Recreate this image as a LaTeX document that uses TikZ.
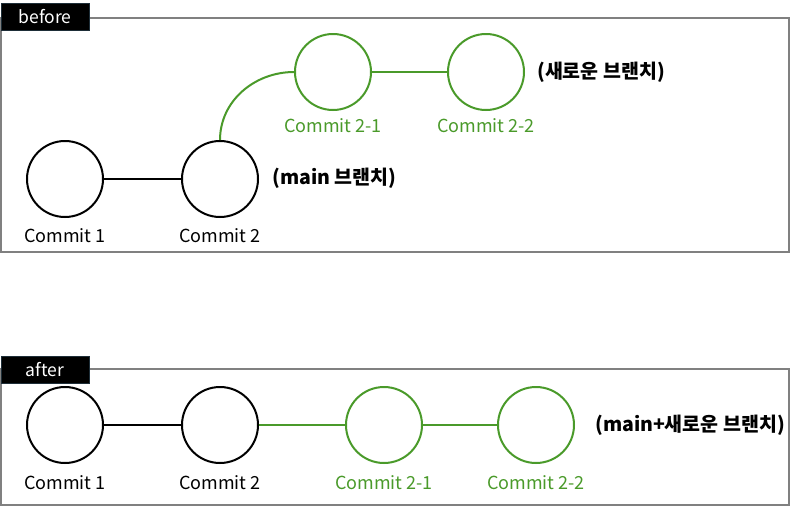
\documentclass[tikz,border=0pt]{standalone}
\usepackage{fontspec}
\setmainfont{Noto Sans CJK KR}
\definecolor{grn}{HTML}{4A9A2A}
\definecolor{frm}{HTML}{808080}
\definecolor{tagedge}{HTML}{1E2E38}
\begin{document}
\begin{tikzpicture}[x=1pt,y=-1pt,
  commit/.style={circle,draw=black,line width=2pt,minimum size=76pt,inner sep=0pt},
  gcommit/.style={commit,draw=grn},
  lbl/.style={font=\fontsize{18}{21}\selectfont,inner sep=0pt},
  glbl/.style={lbl,text=grn},
  brl/.style={font=\bfseries\fontsize{19.5}{22}\selectfont,inner sep=0pt,anchor=west},
  frame/.style={draw=frm,line width=2pt},
  tag/.style={fill=black,draw=tagedge,line width=1pt,text=white,font=\fontsize{17.5}{20}\selectfont,minimum width=88pt,minimum height=27pt,inner sep=0pt},
  link/.style={line width=2pt},
  glink/.style={link,draw=grn}]
\useasboundingbox (0,0) rectangle (800,507);
% before frame
\draw[frame] (1,18) rectangle (789,252);
\node[tag] (tb) at (45,17) {before};
\node[commit] (a1) at (65,179) {};
\node[commit] (a2) at (220,179) {};
\node[gcommit] (a3) at (333,72) {};
\node[gcommit] (a4) at (486,72) {};
\node[lbl] (la1) at (65,236) {Commit 1};
\node[lbl] (la2) at (220,236) {Commit 2};
\node[glbl] (la3) at (333,126) {Commit 2-1};
\node[glbl] (la4) at (486,126) {Commit 2-2};
\node[brl] (bm) at (272,178) {(main 브랜치)};
\node[brl] (bn) at (537,72) {(새로운 브랜치)};
\draw[link] (a1) -- (a2);
\draw[glink] (a2.north) to[out=90,in=180] (a3.west);
\draw[glink] (a3) -- (a4);
% after frame
\draw[frame] (1,369) rectangle (789,505);
\node[tag] (ta) at (45,370) {after};
\node[commit] (b1) at (65,425) {};
\node[commit] (b2) at (220,425) {};
\node[gcommit] (b3) at (384,425) {};
\node[gcommit] (b4) at (536,425) {};
\node[lbl] (lb1) at (65,483) {Commit 1};
\node[lbl] (lb2) at (220,483) {Commit 2};
\node[glbl] (lb3) at (384,483) {Commit 2-1};
\node[glbl] (lb4) at (536,483) {Commit 2-2};
\node[brl] (bmn) at (595,425) {(main+새로운 브랜치)};
\draw[link] (b1) -- (b2);
\draw[glink] (b2) -- (b3);
\draw[glink] (b3) -- (b4);
\end{tikzpicture}
\end{document}
